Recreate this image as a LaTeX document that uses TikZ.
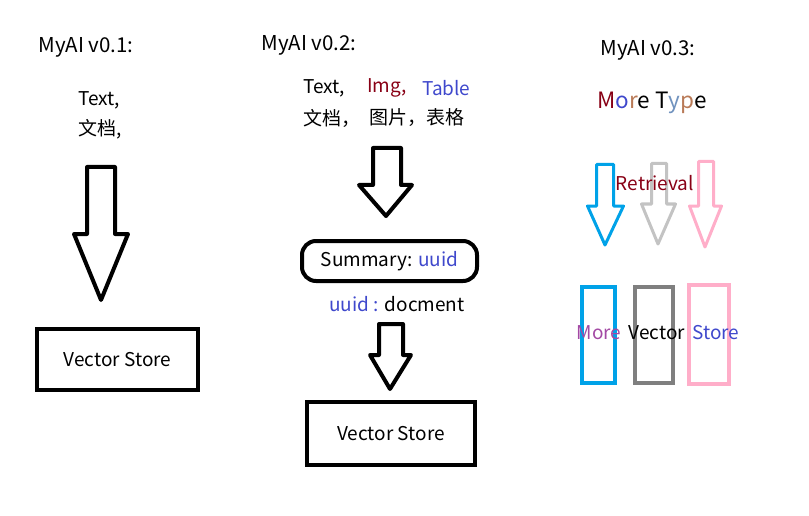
\documentclass[tikz,border=0pt]{standalone}
\usepackage{fontspec}
\setmainfont{Noto Sans CJK SC}
\definecolor{pdred}{HTML}{880015}
\definecolor{pindigo}{HTML}{3F48CC}
\definecolor{ppurple}{HTML}{A349A4}
\definecolor{pcyan}{HTML}{00A2E8}
\definecolor{pgray}{HTML}{7F7F7F}
\definecolor{plgray}{HTML}{C3C3C3}
\definecolor{prose}{HTML}{FFAEC9}
\definecolor{pbrown}{HTML}{B97A57}
\definecolor{pblgray}{HTML}{7092BE}
\newcommand\blkarrow[9]{\draw[#1] (#2,#4) -- (#3,#4) -- (#3,#5) -- (#7,#5) -- (#8,#9) -- (#6,#5) -- (#2,#5) -- cycle;}
\begin{document}
\begin{tikzpicture}[x=1pt,y=-1pt,
  lbl/.style={inner sep=0pt,font=\fontsize{19}{23}\selectfont},
  head/.style={inner sep=0pt,font=\fontsize{20.5}{24}\selectfont},
  bigbox/.style={draw,line width=4pt,inner sep=0pt},
  blk/.style={line width=4pt,line join=round},
  thin/.style={line width=3pt,line join=round}]
\useasboundingbox (0,0) rectangle (809,516);
% column 1
\node[head] (v1) at (86,47) {MyAI v0.1:};
\node[lbl,anchor=west] (t1) at (78,100) {Text,};
\node[lbl,anchor=west] (c1) at (78,129) {文档,};
\blkarrow{blk}{87}{115}{167}{234}{74}{128}{101}{300}
\node[bigbox,minimum width=161pt,minimum height=61pt] (vs1) at (117.5,359.5) {};
\node[lbl] (vs1t) at (vs1) {Vector Store};
% column 2
\node[head] (v2) at (309,45) {MyAI v0.2:};
\node[lbl,anchor=west] (t2a) at (303,88) {Text,};
\node[lbl,anchor=west,text=pdred] (t2b) at (367,88) {Img,};
\node[lbl,anchor=west,text=pindigo] (t2c) at (422,88) {Table};
\node[lbl,anchor=west] (c2a) at (303,118) {文档，};
\node[lbl,anchor=west] (c2b) at (369,118) {图片，表格};
\blkarrow{blk}{373}{401}{148}{185}{359}{412}{386}{216}
\node[draw,line width=4pt,rounded corners=14pt,minimum width=175pt,minimum height=40pt,inner sep=0pt] (sum) at (389.5,261) {};
\node[lbl] (sumt) at (sum) {Summary: \textcolor{pindigo}{uuid}};
\node[lbl] (map) at (397,304) {\textcolor{pindigo}{uuid :} docment};
\blkarrow{blk}{379}{403}{324}{355}{370}{411}{390}{389}
\node[bigbox,minimum width=168pt,minimum height=63pt] (vs2) at (391,433.5) {};
\node[lbl] (vs2t) at (vs2) {Vector Store};
% column 3
\node[head] (v3) at (648,50) {MyAI v0.3:};
\node[inner sep=0pt,font=\fontsize{22.5}{26}\selectfont] (mt) at (652,103) {\textcolor{pdred}{M}\textcolor{pindigo}{o}\textcolor{pbrown}{r}e T\textcolor{pblgray}{y}\textcolor{pbrown}{p}e};
\blkarrow{thin,draw=pcyan}{596.5}{613.5}{164.5}{206}{587.5}{623.5}{605}{245}
\blkarrow{thin,draw=plgray}{651.5}{666.5}{163.5}{204}{641.5}{675.5}{658}{244}
\blkarrow{thin,draw=prose}{698.5}{713.5}{161.5}{206}{689.5}{721.5}{705}{247}
\node[lbl,text=pdred] (ret) at (655,183) {Retrieval};
\node[draw=pcyan,line width=4pt,minimum width=33pt,minimum height=96pt,inner sep=0pt] (r1) at (598.5,335) {};
\node[draw=pgray,line width=4pt,minimum width=38pt,minimum height=96pt,inner sep=0pt] (r2) at (654,335) {};
\node[draw=prose,line width=4pt,minimum width=40pt,minimum height=99pt,inner sep=0pt] (r3) at (709,334.5) {};
\node[lbl,text=ppurple] (m1) at (599,333) {More};
\node[lbl] (m2) at (657,333) {Vector};
\node[lbl,text=pindigo] (m3) at (716,333) {Store};
\end{tikzpicture}
\end{document}
